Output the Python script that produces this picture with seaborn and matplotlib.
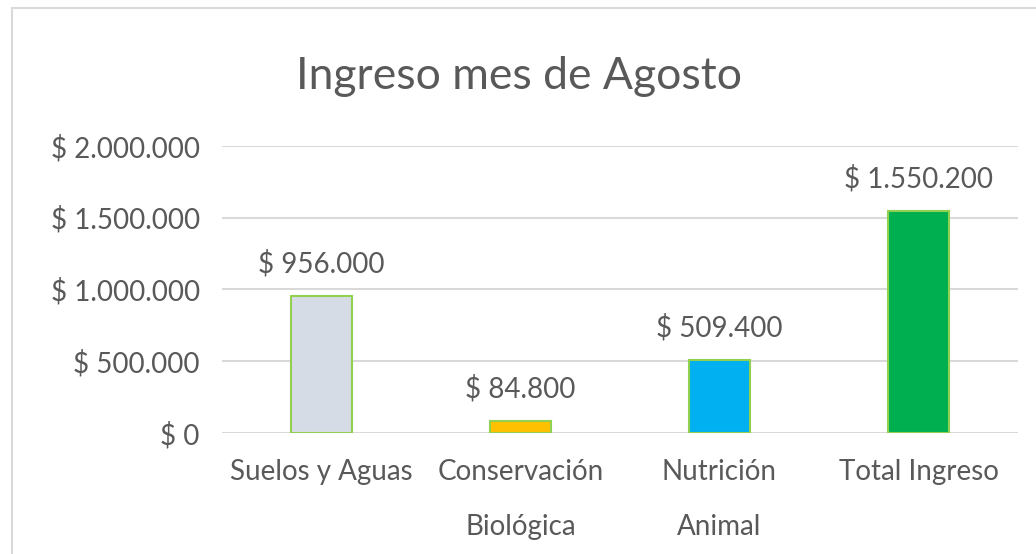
import matplotlib
matplotlib.use("Agg")
import matplotlib.pyplot as plt
import seaborn as sns
from matplotlib.lines import Line2D
from matplotlib.ticker import FuncFormatter

# datos
categorias = ["Suelos y Aguas", "Conservación\nBiológica", "Nutrición\nAnimal", "Total Ingreso"]
ingresos = [956000, 84800, 509400, 1550200]
colores = ["#D6DCE5", "#FFC000", "#00B0F0", "#00B050"]
ticks_y = [0, 500000, 1000000, 1500000, 2000000]


def pesos(v, pos=None):
    return "$ " + f"{int(v):,}".replace(",", ".")


sns.set_style("white")
plt.rcParams['font.family'] = ['Lato', 'DejaVu Sans']
gris = "#595959"

fig = plt.figure(figsize=(10.36, 5.54), dpi=100)
ax = fig.add_axes([0.2143, 0.2184, 0.7683, 0.5181])

sns.barplot(x=categorias, y=ingresos, hue=categorias, palette=colores, legend=False,
            saturation=1, width=0.31, edgecolor="#92D050", linewidth=1.5, ax=ax, zorder=3)

ax.set_ylim(0, 2000000)
ax.set_yticks(ticks_y)
ax.yaxis.set_major_formatter(FuncFormatter(pesos))
ax.grid(axis="y", color="#D9D9D9", linewidth=1.5, zorder=0)
ax.set_axisbelow(True)
sns.despine(ax=ax, left=True, bottom=True, top=True, right=True)
ax.tick_params(axis="both", length=0, labelsize=20, labelcolor=gris)
ax.tick_params(axis="y", pad=16)
ax.tick_params(axis="x", pad=19)
for t in ax.get_xticklabels():
    t.set_linespacing(2.35)

for i, v in enumerate(ingresos):
    ax.annotate(pesos(v), (i, v), xytext=(0, 23), textcoords="offset points",
                ha="center", va="center", fontsize=20, color=gris)

fig.text(0.501, 0.862, "Ingreso mes de Agosto", ha="center", va="center",
         fontsize=32, color=gris)

# borde del área del gráfico
fig.add_artist(Line2D([12 / 1036, 12 / 1036], [0, 1 - 8 / 554], transform=fig.transFigure,
                      color="#D9D9D9", linewidth=1.5))
fig.add_artist(Line2D([12 / 1036, 1], [1 - 8 / 554, 1 - 8 / 554], transform=fig.transFigure,
                      color="#D9D9D9", linewidth=1.5))

fig.savefig("out.png", dpi=100, facecolor="white")
